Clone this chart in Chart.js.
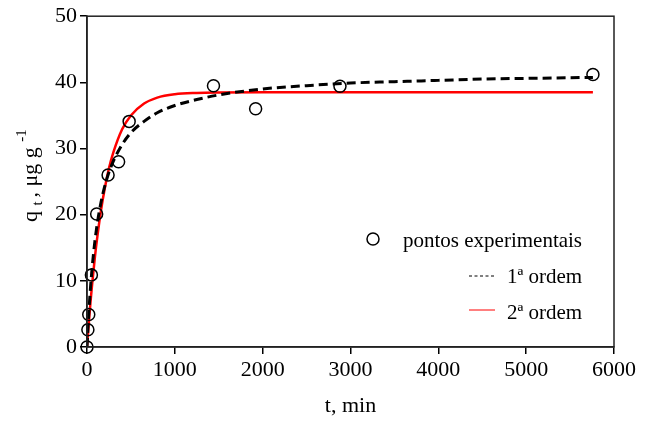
<!DOCTYPE html>
<html>
<head>
<meta charset="utf-8">
<script src="https://cdn.jsdelivr.net/npm/chart.js@4.4.1/dist/chart.umd.min.js"></script>
<style>
    html, body { margin: 0; padding: 0; background: #fff; }
    canvas { display: block; }
</style>
</head>
<body>
<canvas id="chart" width="651" height="421"></canvas>
<script>
    "use strict";

    // experimental points (t in min, qt in ug/g)
    var pointTimes = [0, 10, 20, 50, 110, 240, 360, 480, 1440, 1920, 2880, 5760];
    var pointValues = [0, 2.6, 4.9, 10.9, 20.1, 26.0, 28.0, 34.1, 39.5, 36.0, 39.4, 41.2];

    // model curves
    var curveTimes = [0, 10, 20, 40, 60, 90, 120, 160, 200, 250, 300, 400, 500, 650, 800, 1000, 1250, 1500, 2000, 2500, 3000, 3500, 4000, 4500, 5000, 5760];
    var firstOrder = [0, 2.7, 5.0, 9.0, 12.2, 16.0, 18.9, 21.9, 24.2, 26.4, 28.1, 30.6, 32.4, 34.1, 35.4, 36.5, 37.4, 38.1, 39.0, 39.5, 39.9, 40.1, 40.3, 40.5, 40.6, 40.75];
    var secondOrder = [0, 1.8, 3.5, 6.8, 9.7, 13.6, 16.9, 20.7, 23.8, 27.0, 29.4, 32.9, 35.0, 36.8, 37.7, 38.2, 38.4, 38.47, 38.5, 38.5, 38.5, 38.5, 38.5, 38.5, 38.5, 38.5];

    var xTicks = [0, 1000, 2000, 3000, 4000, 5000, 6000];
    var yTicks = [0, 10, 20, 30, 40, 50];

    var legendLabels = ["pontos experimentais", "1\u00aa ordem", "2\u00aa ordem"];

    var FONT = "'Liberation Serif', 'Times New Roman', serif";

    function toXY(xs, ys) {
        var out = [];
        for (var i = 0; i < xs.length; i++) {
            out.push({ x: xs[i], y: ys[i] });
        }
        return out;
    }

    function plainLabel(value) {
        return String(value);
    }

    var framePlugin = {
        id: "frameAndText",
        afterDraw: function(chart) {
            var ctx = chart.ctx;
            var a = chart.chartArea;
            ctx.save();

            // box round the plot
            ctx.strokeStyle = "#222";
            ctx.lineWidth = 1.5;
            ctx.strokeRect(a.left, a.top, a.right - a.left, a.bottom - a.top);

            ctx.fillStyle = "#000";
            ctx.textBaseline = "alphabetic";

            // x title
            ctx.font = "22px " + FONT;
            ctx.textAlign = "center";
            ctx.fillText("t, min", (a.left + a.right) / 2, 412);

            // y title, rotated, with subscript and superscript
            ctx.save();
            ctx.translate(37, 222);
            ctx.rotate(-Math.PI / 2);
            ctx.textAlign = "left";
            var px = 0;
            ctx.font = "22px " + FONT;
            ctx.fillText("q", px, 0);
            px += ctx.measureText("q ").width;
            ctx.font = "15px " + FONT;
            ctx.fillText("t", px, 5);
            px += ctx.measureText("t ").width;
            ctx.font = "22px " + FONT;
            ctx.fillText(", \u03bcg g", px, 0);
            px += ctx.measureText(", \u03bcg g ").width;
            ctx.font = "15px " + FONT;
            ctx.fillText("-1", px, -11);
            ctx.restore();

            // legend
            ctx.font = "21px " + FONT;
            ctx.textAlign = "left";
            ctx.beginPath();
            ctx.lineWidth = 1.5;
            ctx.strokeStyle = "#000";
            ctx.arc(373, 239, 6, 0, Math.PI * 2);
            ctx.stroke();
            ctx.fillText(legendLabels[0], 403, 246.5);

            ctx.beginPath();
            ctx.lineWidth = 1;
            ctx.setLineDash([3, 2.5]);
            ctx.moveTo(469, 276);
            ctx.lineTo(495, 276);
            ctx.stroke();
            ctx.setLineDash([]);
            ctx.fillText(legendLabels[1], 507, 282.5);

            ctx.beginPath();
            ctx.strokeStyle = "#ff0000";
            ctx.moveTo(469, 310);
            ctx.lineTo(495, 310);
            ctx.stroke();
            ctx.fillText(legendLabels[2], 507, 319);

            ctx.restore();
        }
    };

    var ctx = document.getElementById("chart").getContext("2d");
    var chart = new Chart(ctx, {
        type: "scatter",
        data: {
            datasets: [{
                label: legendLabels[2],
                data: toXY(curveTimes, secondOrder),
                showLine: true,
                borderColor: "#ff0000",
                borderWidth: 2.5,
                pointRadius: 0,
                cubicInterpolationMode: "monotone",
                order: 3
            }, {
                label: legendLabels[1],
                data: toXY(curveTimes, firstOrder),
                showLine: true,
                borderColor: "#000",
                borderWidth: 3,
                borderDash: [9, 5],
                pointRadius: 0,
                cubicInterpolationMode: "monotone",
                order: 2
            }, {
                label: legendLabels[0],
                data: toXY(pointTimes, pointValues),
                showLine: false,
                clip: false,
                pointRadius: 6,
                pointBorderWidth: 1.5,
                pointBorderColor: "#000",
                pointBackgroundColor: "rgba(0,0,0,0)",
                order: 1
            }]
        },
        options: {
            responsive: false,
            animation: false,
            layout: { padding: { left: 0, right: 37, top: 14, bottom: 0 } },
            plugins: {
                legend: { display: false },
                tooltip: { enabled: false }
            },
            scales: {
                x: {
                    type: "linear",
                    min: 0,
                    max: 6000,
                    afterFit: function(scale) { scale.height = 74; },
                    afterBuildTicks: function(scale) {
                        scale.ticks = xTicks.map(function(v) { return { value: v }; });
                    },
                    ticks: { color: "#000", font: { family: FONT, size: 22 }, padding: 3, maxRotation: 0, callback: plainLabel },
                    grid: { drawOnChartArea: false, color: "#000", lineWidth: 1.5, tickLength: 7 },
                    border: { color: "#222", width: 1.5 }
                },
                y: {
                    min: 0,
                    max: 50,
                    afterFit: function(scale) { scale.width = 87; },
                    afterBuildTicks: function(scale) {
                        scale.ticks = yTicks.map(function(v) { return { value: v }; });
                    },
                    ticks: { color: "#000", font: { family: FONT, size: 22 }, padding: 3, callback: plainLabel },
                    grid: { drawOnChartArea: false, color: "#000", lineWidth: 1.5, tickLength: 7 },
                    border: { color: "#222", width: 1.5 }
                }
            }
        },
        plugins: [framePlugin]
    });
</script>
</body>
</html>
